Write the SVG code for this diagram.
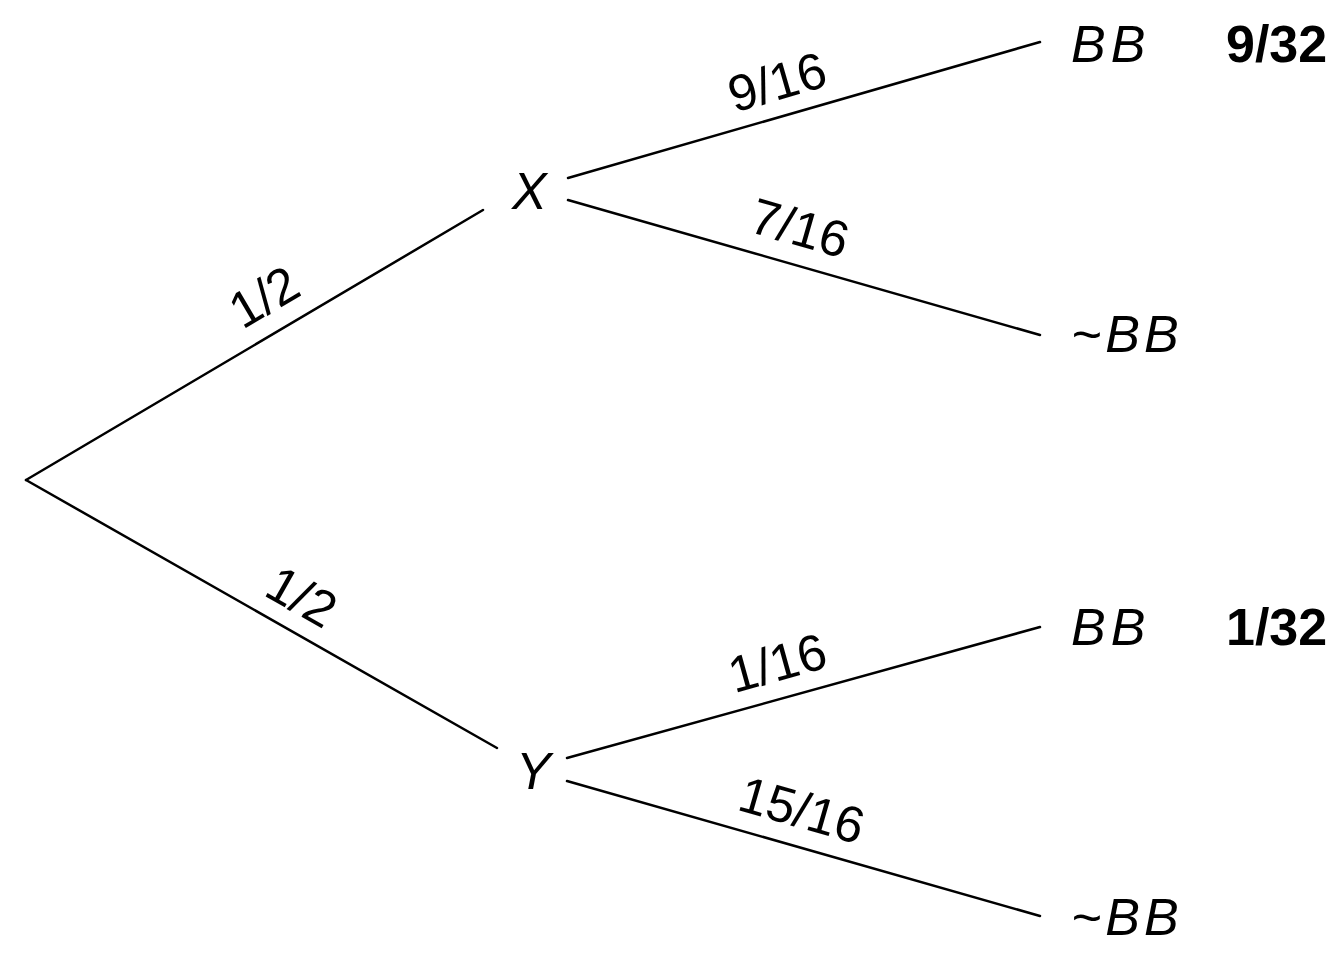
<svg xmlns="http://www.w3.org/2000/svg" width="1344" height="960" viewBox="0 0 1344 960">
<style>
.e{stroke:#000;stroke-width:2.5;fill:none;stroke-linecap:round}
.n{font-family:"Liberation Sans",Arial,sans-serif;font-size:52px;font-style:italic;fill:#000}
.l{font-family:"Liberation Sans",Arial,sans-serif;font-size:51px;fill:#000;text-anchor:middle}
.p{font-family:"Liberation Sans",Arial,sans-serif;font-size:52px;font-weight:bold;fill:#000}
</style>
<rect width="1344" height="960" fill="#fff"/>
<g id="connectors">
<line class="e" x1="26" y1="480" x2="483" y2="210"/>
<line class="e" x1="26" y1="480" x2="497" y2="748"/>
<line class="e" x1="568" y1="178" x2="1040" y2="42"/>
<line class="e" x1="568" y1="200" x2="1040" y2="335"/>
<line class="e" x1="567" y1="758" x2="1040" y2="627"/>
<line class="e" x1="567" y1="781" x2="1040" y2="916"/>
<text class="l" transform="translate(273,312) rotate(-30.6)">1/2</text>
<text class="l" transform="translate(293,612) rotate(29.6)">1/2</text>
<text class="l" transform="translate(782,99) rotate(-16.1)">9/16</text>
<text class="l" transform="translate(795,245) rotate(16)">7/16</text>
<text class="l" transform="translate(782,680) rotate(-15.5)">1/16</text>
<text class="l" transform="translate(797,827) rotate(16)">15/16</text>
</g>
<g id="X"><text class="n" x="512" y="209">X</text></g>
<g id="Y"><text class="n" x="516" y="789">Y</text></g>
<g id="BB1"><text class="n" x="1071" y="62" letter-spacing="5">BB</text></g>
<g id="nBB1"><text class="n" x="1071" y="352" letter-spacing="4">~BB</text></g>
<g id="BB2"><text class="n" x="1071" y="645" letter-spacing="5">BB</text></g>
<g id="nBB2"><text class="n" x="1071" y="935" letter-spacing="4">~BB</text></g>
<g id="p1"><text class="p" x="1226" y="62">9/32</text></g>
<g id="p2"><text class="p" x="1226" y="645">1/32</text></g>
</svg>
